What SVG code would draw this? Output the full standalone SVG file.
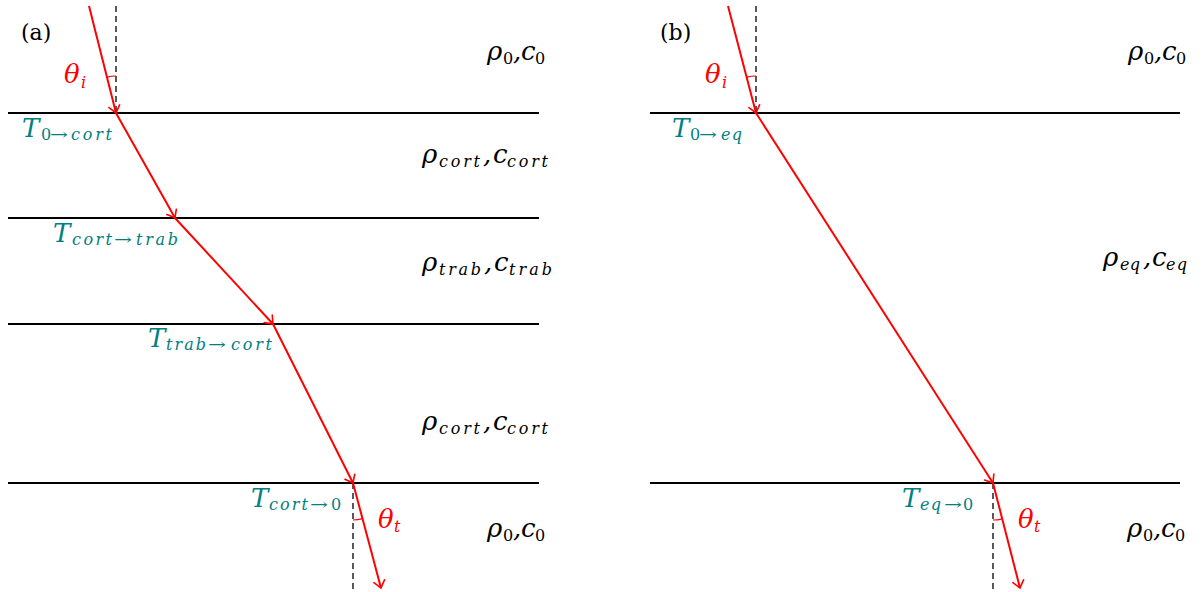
<svg xmlns="http://www.w3.org/2000/svg" width="1202" height="592" viewBox="0 0 1202 592">
<style>
  .layer{stroke:#000;stroke-width:2;fill:none}
  .ray{stroke:#ff0000;stroke-width:2;fill:none;marker-end:url(#arr)}
  .dash{stroke:#000;stroke-width:1.3;stroke-dasharray:6,4;fill:none}
  .arc{stroke:#ff0000;stroke-width:1.2;fill:none}
  text{font-family:"DejaVu Serif","Liberation Serif",serif}
  .m{font-style:italic;font-size:26px}
  .s{font-style:italic;font-size:16px}
  .u{font-style:normal;font-size:16px}
  .teal text{fill:#008080}
  .red text{fill:#ff0000}
  .blk text{fill:#000}
  .tag{font-size:22px;fill:#000}
</style>
<defs>
  <marker id="arr" markerUnits="userSpaceOnUse" viewBox="-9 -7 11 14" refX="0" refY="0" markerWidth="11" markerHeight="14" orient="auto" overflow="visible">
    <path d="M-7,-5.5 Q-2,-1.5 0,0 Q-2,1.5 -7,5.5" fill="none" stroke="#ff0000" stroke-width="1.6" stroke-linecap="round"/>
  </marker>
</defs>
<rect width="1202" height="592" fill="#fff"/>

<g id="panel-a">
  <g id="a-layers">
    <line class="layer" x1="8" y1="113" x2="539" y2="113"/>
    <line class="layer" x1="8" y1="218" x2="539" y2="218"/>
    <line class="layer" x1="8" y1="324" x2="539" y2="324"/>
    <line class="layer" x1="8" y1="483" x2="539" y2="483"/>
  </g>
  <g id="a-connectors">
    <line class="dash" x1="116" y1="6" x2="116" y2="113"/>
    <line class="dash" x1="353" y1="483" x2="353" y2="590"/>
    <path class="arc" d="M116,76 A37,37 0 0 0 106.95,77.14"/>
    <path class="arc" d="M353,520 A37,37 0 0 0 362.5,518.7"/>
    <line class="ray" x1="89" y1="6" x2="116" y2="113"/>
    <line class="ray" x1="116" y1="113" x2="175" y2="218"/>
    <line class="ray" x1="175" y1="218" x2="273" y2="324"/>
    <line class="ray" x1="273" y1="324" x2="353" y2="483"/>
    <line class="ray" x1="353" y1="483" x2="381" y2="588"/>
  </g>
  <g id="a-labels">
    <text class="tag" x="21" y="40">(a)</text>
    <g id="a-theta-i" class="red"><text class="m" x="64" y="83">θ</text><text class="s" x="81" y="88">i</text></g>
    <g id="a-theta-t" class="red"><text class="m" x="378" y="528">θ</text><text class="s" x="394" y="532">t</text></g>
    <g id="a-T1" class="teal">
      <text class="m" x="22" y="137">T</text><text class="u" x="41" y="140">0</text>
      <text class="u" x="50" y="140" textLength="18" lengthAdjust="spacingAndGlyphs">→</text>
      <text class="s" x="71" y="140" textLength="41" lengthAdjust="spacing">cort</text>
    </g>
    <g id="a-T2" class="teal">
      <text class="m" x="53" y="242">T</text>
      <text class="s" x="72" y="245" textLength="40" lengthAdjust="spacing">cort</text>
      <text class="u" x="114" y="245" textLength="18" lengthAdjust="spacingAndGlyphs">→</text>
      <text class="s" x="136" y="245" textLength="42" lengthAdjust="spacing">trab</text>
    </g>
    <g id="a-T3" class="teal">
      <text class="m" x="148" y="347">T</text>
      <text class="s" x="166" y="350" textLength="40" lengthAdjust="spacing">trab</text>
      <text class="u" x="208" y="350" textLength="18" lengthAdjust="spacingAndGlyphs">→</text>
      <text class="s" x="231" y="350" textLength="41" lengthAdjust="spacing">cort</text>
    </g>
    <g id="a-T4" class="teal">
      <text class="m" x="251" y="507">T</text>
      <text class="s" x="269" y="510" textLength="39" lengthAdjust="spacing">cort</text>
      <text class="u" x="310" y="510" textLength="18" lengthAdjust="spacingAndGlyphs">→</text>
      <text class="u" x="331" y="510">0</text>
    </g>
    <g id="a-med0-top" class="blk">
      <text class="m" x="487" y="60">ρ</text><text class="u" x="503" y="64">0</text>
      <text class="m" x="513" y="60">,</text><text class="m" x="521" y="60">c</text><text class="u" x="535" y="64">0</text>
    </g>
    <g id="a-med-cort1" class="blk">
      <text class="m" x="422" y="163">ρ</text><text class="s" x="439" y="167" textLength="41" lengthAdjust="spacing">cort</text>
      <text class="m" x="483" y="163">,</text><text class="m" x="493" y="163">c</text><text class="s" x="507" y="167" textLength="41" lengthAdjust="spacing">cort</text>
    </g>
    <g id="a-med-trab" class="blk">
      <text class="m" x="422" y="271">ρ</text><text class="s" x="439" y="275" textLength="42" lengthAdjust="spacing">trab</text>
      <text class="m" x="484" y="271">,</text><text class="m" x="494" y="271">c</text><text class="s" x="509" y="275" textLength="43" lengthAdjust="spacing">trab</text>
    </g>
    <g id="a-med-cort2" class="blk">
      <text class="m" x="422" y="430">ρ</text><text class="s" x="439" y="434" textLength="41" lengthAdjust="spacing">cort</text>
      <text class="m" x="483" y="430">,</text><text class="m" x="493" y="430">c</text><text class="s" x="507" y="434" textLength="41" lengthAdjust="spacing">cort</text>
    </g>
    <g id="a-med0-bot" class="blk">
      <text class="m" x="487" y="537">ρ</text><text class="u" x="503" y="541">0</text>
      <text class="m" x="513" y="537">,</text><text class="m" x="521" y="537">c</text><text class="u" x="535" y="541">0</text>
    </g>
  </g>
</g>

<g id="panel-b">
  <g id="b-layers">
    <line class="layer" x1="650" y1="113" x2="1180" y2="113"/>
    <line class="layer" x1="650" y1="483" x2="1180" y2="483"/>
  </g>
  <g id="b-connectors">
    <line class="dash" x1="756" y1="6" x2="756" y2="113"/>
    <line class="dash" x1="993" y1="483" x2="993" y2="590"/>
    <path class="arc" d="M756,76 A37,37 0 0 0 746.6,77.2"/>
    <path class="arc" d="M993,520 A37,37 0 0 0 1002.2,518.8"/>
    <line class="ray" x1="728" y1="6" x2="756" y2="113"/>
    <line class="ray" x1="756" y1="113" x2="993" y2="483"/>
    <line class="ray" x1="993" y1="483" x2="1020" y2="588"/>
  </g>
  <g id="b-labels">
    <text class="tag" x="660" y="40">(b)</text>
    <g id="b-theta-i" class="red"><text class="m" x="705" y="83">θ</text><text class="s" x="722" y="88">i</text></g>
    <g id="b-theta-t" class="red"><text class="m" x="1018" y="528">θ</text><text class="s" x="1034" y="532">t</text></g>
    <g id="b-T1" class="teal">
      <text class="m" x="672" y="137">T</text><text class="u" x="690" y="140">0</text>
      <text class="u" x="699" y="140" textLength="18" lengthAdjust="spacingAndGlyphs">→</text>
      <text class="s" x="721" y="140" textLength="21" lengthAdjust="spacing">eq</text>
    </g>
    <g id="b-T2" class="teal">
      <text class="m" x="902" y="507">T</text>
      <text class="s" x="920" y="510" textLength="21" lengthAdjust="spacing">eq</text>
      <text class="u" x="944" y="510" textLength="18" lengthAdjust="spacingAndGlyphs">→</text>
      <text class="u" x="963" y="510">0</text>
    </g>
    <g id="b-med0-top" class="blk">
      <text class="m" x="1128" y="60">ρ</text><text class="u" x="1144" y="64">0</text>
      <text class="m" x="1154" y="60">,</text><text class="m" x="1162" y="60">c</text><text class="u" x="1176" y="64">0</text>
    </g>
    <g id="b-med-eq" class="blk">
      <text class="m" x="1103" y="266">ρ</text><text class="s" x="1120" y="270" textLength="20" lengthAdjust="spacing">eq</text>
      <text class="m" x="1143" y="266">,</text><text class="m" x="1152" y="266">c</text><text class="s" x="1166" y="270" textLength="21" lengthAdjust="spacing">eq</text>
    </g>
    <g id="b-med0-bot" class="blk">
      <text class="m" x="1127" y="537">ρ</text><text class="u" x="1143" y="541">0</text>
      <text class="m" x="1153" y="537">,</text><text class="m" x="1161" y="537">c</text><text class="u" x="1175" y="541">0</text>
    </g>
  </g>
</g>
</svg>
